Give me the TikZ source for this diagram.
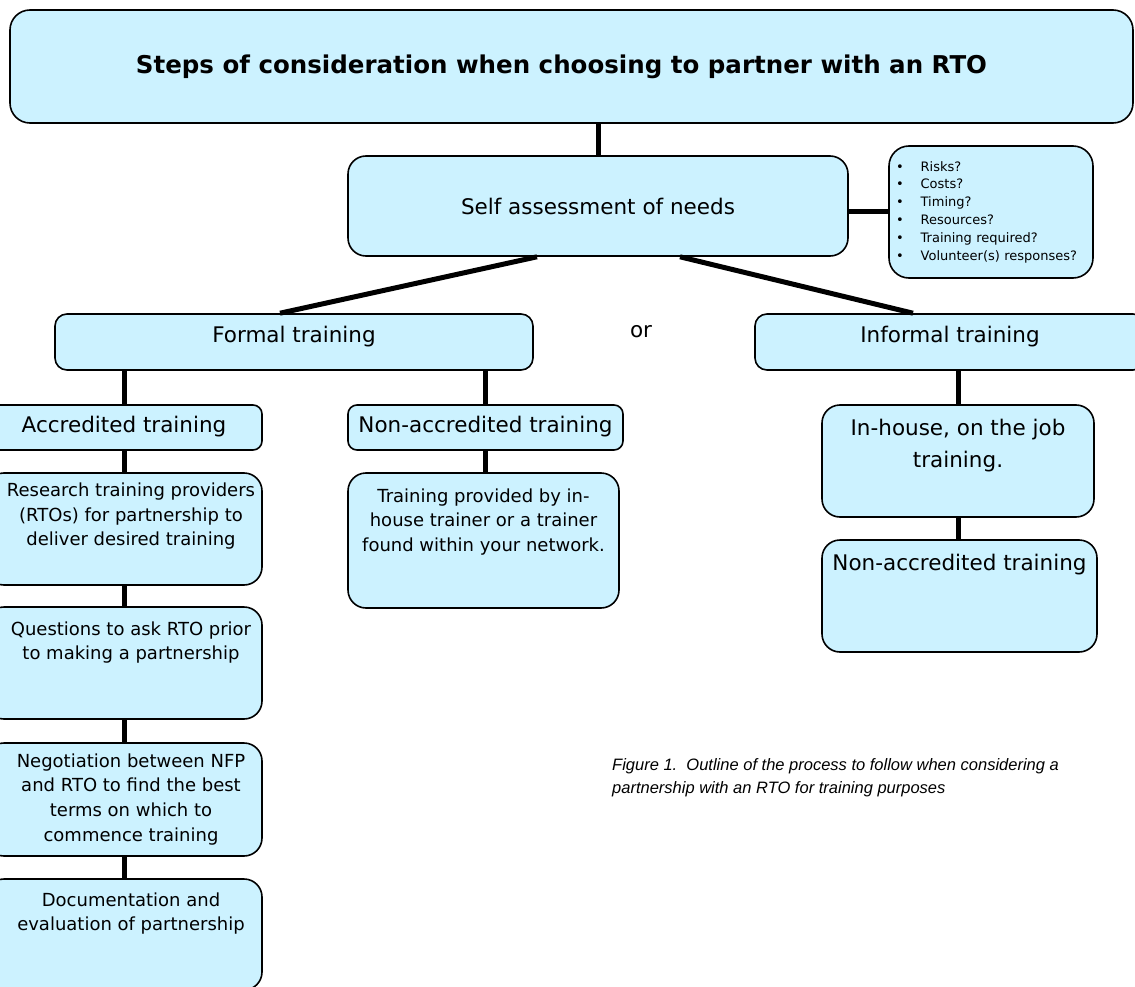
\documentclass[tikz,border=0pt]{standalone}
\usepackage{fontspec}
\setmainfont{DejaVu Sans}
\newfontfamily\capfont{Liberation Sans}
\definecolor{boxfill}{RGB}{204,242,255}
\tikzset{
  box/.style={draw=black, line width=1.6pt, fill=boxfill, rounded corners=18pt, inner sep=0pt},
  link/.style={line width=5pt},
  bigtxt/.style={font=\fontsize{21.5}{32}\selectfont, align=center, inner sep=0pt},
  midtxt/.style={font=\fontsize{18}{24.7}\selectfont, align=center, inner sep=0pt}
}
\begin{document}
\begin{tikzpicture}[x=1pt,y=-1pt,line cap=butt,line join=round]
\useasboundingbox (0,0) rectangle (1135,987);
\clip (0,0) rectangle (1135,987);

% top of the chart
\node[box, rounded corners=20pt, minimum width=1123pt, minimum height=113pt,
  label={[inner sep=0pt, xshift=-10pt, font=\bfseries\fontsize{24.5}{30}\selectfont]center:Steps of consideration when choosing to partner with an RTO}] (title) at (571.5,66.5) {};
\node[box, minimum width=500pt, minimum height=100pt, bigtxt] (self) at (598,206)
  {Self assessment of needs};
\node[box, rounded corners=20pt, minimum width=204pt, minimum height=132pt,
  text width=190pt, align=left, font=\fontsize{13}{17.8}\selectfont] (risks) at (991,212)
  {\textbullet\hspace{17pt}Risks?\\
   \textbullet\hspace{17pt}Costs?\\
   \textbullet\hspace{17pt}Timing?\\
   \textbullet\hspace{17pt}Resources?\\
   \textbullet\hspace{17pt}Training required?\\
   \textbullet\hspace{17pt}Volunteer(s) responses?};

% the two kinds of training
\node[box, rounded corners=12pt, minimum width=478pt, minimum height=56pt,
  label={[bigtxt, anchor=north, yshift=-13pt]north:Formal training}] (formal) at (294,342) {};
\node[bigtxt] (or) at (641,332) {or};
\node[box, rounded corners=12pt, minimum width=390pt, minimum height=56pt,
  label={[bigtxt, anchor=north, yshift=-13pt]north:Informal training}] (informal) at (950,342) {};

% formal branch
\node[box, rounded corners=9pt, minimum width=276pt, minimum height=45pt,
  label={[bigtxt, anchor=north, yshift=-11.5pt]north:Accredited training}] (accr) at (124,427.5) {};
\node[box, rounded corners=9pt, minimum width=275pt, minimum height=45pt,
  label={[bigtxt, anchor=north, yshift=-11.5pt]north:Non-accredited training}] (nonaccr) at (485.5,427.5) {};
\node[box, minimum width=276pt, minimum height=112pt,
  label={[midtxt, anchor=north, xshift=7pt, yshift=-10.5pt]north:{Research training providers\\(RTOs) for partnership to\\deliver desired training}}] (research) at (124,529) {};
\node[box, minimum width=271pt, minimum height=135pt,
  label={[midtxt, anchor=north, yshift=-16pt]north:{Training provided by in-\\house trainer or a trainer\\found within your network.}}] (trainer) at (483.5,540.5) {};
\node[box, minimum width=276pt, minimum height=112pt,
  label={[midtxt, anchor=north, xshift=7pt, yshift=-15pt]north:{Questions to ask RTO prior\\to making a partnership}}] (questions) at (124,663) {};
\node[box, minimum width=276pt, minimum height=113pt,
  label={[midtxt, anchor=north, xshift=7pt, yshift=-11pt]north:{Negotiation between NFP\\and RTO to find the best\\terms on which to\\commence training}}] (negotiate) at (124,799.5) {};
\node[box, minimum width=276pt, minimum height=111pt,
  label={[midtxt, anchor=north, xshift=7pt, yshift=-14pt]north:{Documentation and\\evaluation of partnership}}] (document) at (124,934.5) {};

% informal branch
\node[box, minimum width=272pt, minimum height=112pt,
  label={[bigtxt, anchor=north, yshift=-14.5pt]north:{In-house, on the job\\training.}}] (inhouse) at (958,461) {};
\node[box, minimum width=275pt, minimum height=112pt,
  label={[bigtxt, anchor=north, yshift=-15pt]north:Non-accredited training}] (informalnon) at (959.5,596) {};

% connectors
\draw[link] (self.north) -- (self.north |- title.south);
\draw[link] (risks.west) -- (self.east |- risks.west);
\draw[link] ([xshift=-61pt]self.south) -- ([xshift=-14pt]formal.north);
\draw[link] ([xshift=82pt]self.south) -- ([xshift=-37pt]informal.north);
\draw[link] (accr.north) -- (accr.north |- formal.south);
\draw[link] (nonaccr.north) -- (nonaccr.north |- formal.south);
\draw[link] (accr.south) -- (research.north);
\draw[link] (research.south) -- (questions.north);
\draw[link] (questions.south) -- (negotiate.north);
\draw[link] (negotiate.south) -- (document.north);
\draw[link] (nonaccr.south) -- (nonaccr.south |- trainer.north);
\draw[link] (inhouse.north) -- (inhouse.north |- informal.south);
\draw[link] (inhouse.south) -- (inhouse.south |- informalnon.north);

% caption
\node[font=\capfont\itshape\fontsize{16.5}{23}\selectfont, align=left, anchor=north west,
  inner sep=0pt] (caption) at (612,758)
  {Figure 1.\ \ Outline of the process to follow when considering a\\partnership with an RTO for training purposes};

\end{tikzpicture}
\end{document}
